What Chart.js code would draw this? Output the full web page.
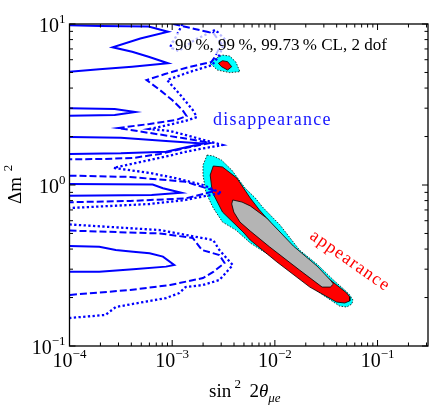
<!DOCTYPE html>
<html>
<head>
<meta charset="utf-8">
<script src="https://cdn.jsdelivr.net/npm/chart.js@4.4.0/dist/chart.umd.min.js"></script>
<style>
  html, body { margin: 0; padding: 0; background: #fff; }
</style>
</head>
<body>
<canvas id="chart" width="432" height="408"></canvas>
<script>
// axis ranges and tick decades
const xMin = 1e-4, xMax = 0.31;
const yMin = 0.1, yMax = 10;
const xTickExponents = [-4, -3, -2, -1];
const yTickExponents = [-1, 0, 1];

// contour points, as [log10 sin^2 2theta, log10 dm^2]
// disappearance 90% CL (solid)
const dis90A = [[-4,0.993],[-3.70,0.988],[-3.23,0.985],[-3.04,0.952],[-3.31,0.91],[-3.58,0.855],[-3.39,0.828],[-3.23,0.797],[-3.04,0.756],[-3.39,0.735],[-3.71,0.719],[-4,0.704]];
const dis90B = [[-4,0.476],[-3.56,0.472],[-3.36,0.453],[-3.56,0.435],[-4,0.430]];
const dis90C = [[-4,0.298],[-3.5,0.293],[-3.06,0.273],[-2.70,0.258],[-3.06,0.207],[-3.5,0.197],[-4,0.193]];
const dis90D = [[-4,0.006],[-3.19,0.003],[-3.09,-0.020],[-2.91,-0.048],[-3.2,-0.062],[-4,-0.066]];
const dis90E = [[-4,-0.379],[-3.71,-0.383],[-3.55,-0.404],[-3.38,-0.414],[-3.22,-0.424],[-3.09,-0.445],[-2.98,-0.497],[-3.06,-0.507],[-3.38,-0.524],[-3.71,-0.539],[-4,-0.539]];
// disappearance 99% CL (dashed)
const dis99A = [[-2.99,1.0],[-2.78,0.969],[-2.60,0.944],[-2.52,0.876],[-2.59,0.789],[-2.62,0.764],[-2.87,0.727],[-3.07,0.689],[-3.25,0.652],[-3.12,0.590],[-3.00,0.528],[-2.90,0.466],[-2.86,0.429],[-2.96,0.404],[-3.22,0.379],[-3.53,0.354],[-3.28,0.329],[-2.90,0.292],[-2.63,0.261],[-2.87,0.230],[-3.12,0.193],[-3.38,0.168],[-3.70,0.161],[-4,0.160]];
const dis99B = [[-4,0.058],[-3.41,0.050],[-2.87,0.020],[-2.58,-0.037],[-2.87,-0.083],[-3.41,-0.099],[-4,-0.107]];
const dis99C = [[-4,-0.283],[-3.12,-0.301],[-2.80,-0.329],[-2.71,-0.404],[-2.54,-0.435],[-2.49,-0.484],[-2.60,-0.540],[-2.70,-0.578],[-3.02,-0.621],[-3.41,-0.652],[-4,-0.683]];
// disappearance 99.73% CL (dotted)
const dis997A = [[-2.90,1.0],[-2.96,0.925],[-3.02,0.857],[-2.94,0.832],[-2.78,0.901],[-2.58,0.963],[-2.48,0.901],[-2.54,0.807],[-2.61,0.745],[-2.83,0.702],[-3.05,0.652],[-2.92,0.559],[-2.80,0.466],[-2.76,0.422],[-2.87,0.398],[-3.13,0.360],[-3.22,0.348],[-3.02,0.335],[-2.83,0.304],[-2.51,0.248],[-2.73,0.224],[-2.87,0.205],[-3.22,0.155],[-3.57,0.106],[-3.22,0.075],[-2.97,0.043],[-2.70,0.0],[-2.52,-0.050],[-2.73,-0.075],[-2.87,-0.093],[-3.22,-0.118],[-4,-0.143]];
const dis997B = [[-4,-0.245],[-3.12,-0.280],[-2.60,-0.342],[-2.54,-0.404],[-2.41,-0.497],[-2.54,-0.590],[-2.70,-0.621],[-2.87,-0.634],[-2.93,-0.671],[-3.06,-0.702],[-3.55,-0.758],[-3.65,-0.807],[-4,-0.826]];

// appearance regions (filled)
const app997 = [[-2.66,0.186],[-2.60,0.180],[-2.52,0.155],[-2.42,0.093],[-2.29,-0.019],[-2.19,-0.081],[-2.12,-0.137],[-1.95,-0.248],[-1.76,-0.404],[-1.58,-0.497],[-1.43,-0.590],[-1.32,-0.652],[-1.27,-0.683],[-1.24,-0.714],[-1.25,-0.739],[-1.30,-0.758],[-1.37,-0.752],[-1.59,-0.658],[-1.92,-0.491],[-2.24,-0.360],[-2.38,-0.280],[-2.51,-0.230],[-2.60,-0.143],[-2.67,-0.050],[-2.70,0.062],[-2.70,0.124]];
const app99 = [[-2.60,0.118],[-2.51,0.112],[-2.37,0.043],[-2.24,-0.081],[-2.15,-0.155],[-1.79,-0.416],[-1.46,-0.590],[-1.30,-0.671],[-1.27,-0.696],[-1.27,-0.720],[-1.32,-0.733],[-1.40,-0.727],[-1.66,-0.634],[-1.98,-0.478],[-2.24,-0.342],[-2.31,-0.292],[-2.51,-0.168],[-2.61,-0.043],[-2.63,0.062]];
const app90 = [[-2.41,-0.093],[-2.32,-0.106],[-2.24,-0.130],[-2.08,-0.205],[-1.82,-0.379],[-1.59,-0.503],[-1.46,-0.590],[-1.43,-0.615],[-1.46,-0.634],[-1.54,-0.634],[-1.76,-0.528],[-2.05,-0.385],[-2.24,-0.286],[-2.34,-0.230],[-2.40,-0.168],[-2.42,-0.118]];
const island997 = [[-2.63,0.756],[-2.57,0.789],[-2.51,0.807],[-2.44,0.801],[-2.38,0.764],[-2.34,0.704],[-2.44,0.698],[-2.56,0.714]];
const island99 = [[-2.55,0.756],[-2.51,0.772],[-2.46,0.766],[-2.42,0.735],[-2.46,0.714],[-2.52,0.735]];

const BLUE = '#0000ff';
const SERIF = '"Liberation Serif", "DejaVu Serif", serif';

const toXY = pts => pts.map(([lx, ly]) => ({ x: 10 ** lx, y: 10 ** ly }));

function contour(pts, dash, width) {
  return { data: toXY(pts), showLine: true, borderColor: BLUE, borderWidth: width || 2,
           borderDash: dash, pointRadius: 0, fill: false, order: 0 };
}
function region(pts, color, dash, order) {
  return { data: toXY(pts.concat([pts[0]])), showLine: true, fill: 'shape',
           backgroundColor: color, borderColor: '#000', borderWidth: 0.8,
           borderDash: dash, pointRadius: 0, order: order };
}

// runs of text: [string, fontPx, dy, italic]
function drawRuns(ctx, runs, x, y) {
  for (const [s, size, dy, it] of runs) {
    ctx.font = (it ? 'italic ' : '') + size + 'px ' + SERIF;
    ctx.fillText(s, x, y + dy);
    x += ctx.measureText(s).width;
  }
}
function runsWidth(ctx, runs) {
  let w = 0;
  for (const [s, size, , it] of runs) {
    ctx.font = (it ? 'italic ' : '') + size + 'px ' + SERIF;
    w += ctx.measureText(s).width;
  }
  return w;
}
const powerRuns = e => [['10', 20, 0], [(e < 0 ? '\u2212' : '') + Math.abs(e), 13, -9]];

const decorations = {
  id: 'decorations',
  afterDatasetsDraw(chart) {
    const { ctx, chartArea: a, scales: { x, y } } = chart;
    ctx.save();

    // legend text over a washed-out box
    ctx.fillStyle = 'rgba(255,255,255,0.72)';
    ctx.fillRect(172, 33, 254, 21);
    ctx.fillStyle = '#000';
    ctx.textAlign = 'left';
    ctx.textBaseline = 'alphabetic';
    ctx.font = '17px ' + SERIF;
    ctx.fillText('90\u2009%, 99\u2009%, 99.73\u2009% CL, 2 dof', 175, 50);

    // frame
    ctx.strokeStyle = '#000';
    ctx.lineWidth = 1.3;
    ctx.strokeRect(a.left, a.top, a.right - a.left, a.bottom - a.top);

    // inward ticks on all sides
    ctx.lineWidth = 1;
    ctx.beginPath();
    for (let d = -4; d <= 0; d++) {
      for (let m = 1; m <= 9; m++) {
        const v = m * 10 ** d;
        if (v < xMin * 0.999 || v > xMax) continue;
        const px = x.getPixelForValue(v);
        const len = m === 1 ? 6 : 3.5;
        ctx.moveTo(px, a.bottom); ctx.lineTo(px, a.bottom - len);
        ctx.moveTo(px, a.top); ctx.lineTo(px, a.top + len);
      }
    }
    for (let d = -1; d <= 1; d++) {
      for (let m = 1; m <= 9; m++) {
        const v = m * 10 ** d;
        if (v < yMin * 0.999 || v > yMax * 1.001) continue;
        const py = y.getPixelForValue(v);
        const len = m === 1 ? 6 : 3.5;
        ctx.moveTo(a.left, py); ctx.lineTo(a.left + len, py);
        ctx.moveTo(a.right, py); ctx.lineTo(a.right - len, py);
      }
    }
    ctx.stroke();

    // tick labels
    ctx.fillStyle = '#000';
    for (const e of xTickExponents) {
      const px = x.getPixelForValue(10 ** e);
      const runs = powerRuns(e);
      drawRuns(ctx, runs, px - runsWidth(ctx, runs) / 2, a.bottom + 21);
    }
    for (const e of yTickExponents) {
      const py = y.getPixelForValue(10 ** e);
      const runs = powerRuns(e);
      drawRuns(ctx, runs, a.left - 4 - runsWidth(ctx, runs), py + 8);
    }

    // x title
    drawRuns(ctx, [['sin', 19, 0], [' 2', 13, -9], ['\u2009 2', 19, 0], ['\u03b8', 19, 0, true], ['\u03bce', 13, 5, true]], 209, 397);

    // y title
    ctx.save();
    ctx.translate(21, 204);
    ctx.rotate(-Math.PI / 2);
    drawRuns(ctx, [['\u0394m', 19, 0], ['\u2009 2', 13, -9]], 0, 0);
    ctx.restore();

    // region labels
    ctx.letterSpacing = '1.3px';
    ctx.font = '18px ' + SERIF;
    ctx.fillStyle = '#1515ff';
    ctx.fillText('disappearance', 213, 125);

    ctx.save();
    ctx.translate(350, 261);
    ctx.rotate(35 * Math.PI / 180);
    ctx.textAlign = 'center';
    ctx.textBaseline = 'middle';
    ctx.fillStyle = '#ff0000';
    ctx.fillText('appearance', 0, 0);
    ctx.restore();

    ctx.restore();
  }
};

new Chart(document.getElementById('chart'), {
  type: 'scatter',
  data: {
    datasets: [
      contour(dis90A, []), contour(dis90B, []), contour(dis90C, []), contour(dis90D, []), contour(dis90E, []),
      contour(dis99A, [7, 3]), contour(dis99B, [7, 3]), contour(dis99C, [7, 3]),
      contour(dis997A, [2.3, 2.4], 2.3), contour(dis997B, [2.3, 2.4], 2.3),
      region(app90, '#b4b4b4', [], 1),
      region(app99, '#ff0000', [], 2),
      region(app997, '#00ffff', [1.5, 1.5], 3),
      region(island99, '#ff0000', [], 2),
      region(island997, '#00ffff', [1.5, 1.5], 3)
    ]
  },
  options: {
    responsive: false,
    animation: false,
    events: [],
    layout: { padding: { left: 69.5, right: 4, top: 24, bottom: 62 } },
    plugins: { legend: { display: false }, tooltip: { enabled: false } },
    scales: {
      x: { type: 'logarithmic', min: xMin, max: xMax, display: false },
      y: { type: 'logarithmic', min: yMin, max: yMax, display: false }
    }
  },
  plugins: [decorations]
});
</script>
</body>
</html>
